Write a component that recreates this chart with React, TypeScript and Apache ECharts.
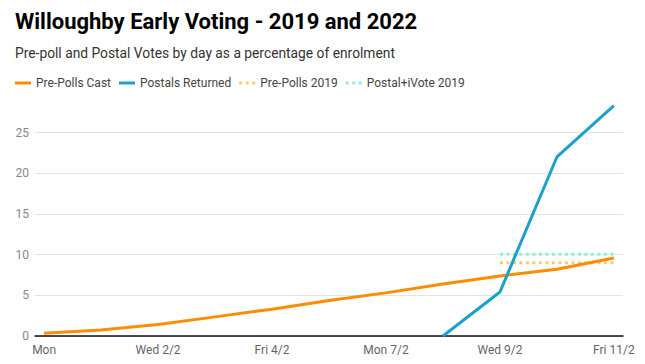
import React, { useEffect, useRef } from "react";
import * as echarts from "echarts";

const categories = ["Mon", "Tue 1/2", "Wed 2/2", "Thu 3/2", "Fri 4/2", "Sat 5/2", "Mon 7/2", "Tue 8/2", "Wed 9/2", "Thu 10/2", "Fri 11/2"];
const prePollsCast = [0.33, 0.75, 1.4, 2.35, 3.3, 4.35, 5.3, 6.4, 7.37, 8.2, 9.58];
const postalsReturned: (number | null)[] = [null, null, null, null, null, null, null, 0, 5.4, 22.0, 28.3];
const prePolls2019: (number | null)[] = [null, null, null, null, null, null, null, null, 9.0, 9.0, 9.0];
const postalIVote2019: (number | null)[] = [null, null, null, null, null, null, null, null, 10.05, 10.05, 10.05];
const xLabelIndices = [0, 2, 4, 6, 8, 10];
const yTicks = [0, 5, 10, 15, 20, 25];

const toPairs = (arr: (number | null)[]) => arr.map((v, i) => [i, v]);

const SOLID_ICON = "path://M0 0H16V3H0Z";
const DOTTED_ICON = "path://M0 0H3V3H0Z M6.5 0H9.5V3H6.5Z M13 0H16V3H13Z";

export default function App() {
  const ref = useRef<HTMLDivElement>(null);
  useEffect(() => {
    document.body.style.margin = "0";
    if (!ref.current) return;
    const chart = echarts.init(ref.current, null, { renderer: "svg" });
    const font = "Roboto, 'Noto Sans', sans-serif";
    chart.setOption({
      animation: false,
      textStyle: { fontFamily: font },
      title: [
        {
          text: "Willoughby Early Voting - 2019 and 2022",
          left: 15,
          top: 10,
          padding: 0,
          textStyle: { fontSize: 22, fontWeight: "bold", color: "#000", fontFamily: font },
        },
        {
          text: "Pre-poll and Postal Votes by day as a percentage of enrolment",
          left: 15,
          top: 46,
          padding: 0,
          textStyle: { fontSize: 13.8, fontWeight: "normal", color: "#333", fontFamily: font },
        },
      ],
      legend: {
        left: 15,
        top: 77,
        padding: 0,
        itemWidth: 16,
        itemHeight: 12,
        itemGap: 8,
        symbolKeepAspect: true,
        textStyle: { fontSize: 12, color: "#444", fontFamily: font },
        data: [
          { name: "Pre-Polls Cast", icon: SOLID_ICON },
          { name: "Postals Returned", icon: SOLID_ICON },
          { name: "Pre-Polls 2019", icon: DOTTED_ICON },
          { name: "Postal+iVote 2019", icon: DOTTED_ICON },
        ],
      },
      grid: { left: 35, right: 22, top: 100, bottom: 28, containLabel: false },
      xAxis: {
        type: "value",
        min: -0.16,
        max: 10.16,
        axisLine: { show: true, onZero: false, lineStyle: { color: "#111", width: 1.5 } },
        axisTick: { show: false },
        splitLine: { show: false },
        axisLabel: {
          customValues: xLabelIndices,
          formatter: (v: number) => categories[Math.round(v)] ?? "",
          color: "#666",
          fontSize: 12,
          margin: 8,
          fontFamily: font,
        },
      },
      yAxis: {
        type: "value",
        min: 0,
        max: 29,
        interval: 5,
        axisLine: { show: false },
        axisTick: { show: false },
        axisLabel: {
          showMaxLabel: false,
          color: "#888",
          fontSize: 12,
          margin: 6,
          fontFamily: font,
          formatter: (v: number) => (yTicks.includes(v) ? String(v) : ""),
        },
        splitLine: { show: true, showMaxLine: false, lineStyle: { color: "#e3e3e3", width: 1 } },
      },
      series: [
        {
          name: "Pre-Polls Cast",
          type: "line",
          data: toPairs(prePollsCast),
          symbol: "none",
          lineStyle: { color: "#ff8c00", width: 3 },
          itemStyle: { color: "#ff8c00" },
          z: 3,
        },
        {
          name: "Postals Returned",
          type: "line",
          data: toPairs(postalsReturned),
          symbol: "none",
          lineStyle: { color: "#1aa2cc", width: 3 },
          itemStyle: { color: "#1aa2cc" },
          z: 4,
        },
        {
          name: "Pre-Polls 2019",
          type: "line",
          data: toPairs(prePolls2019),
          symbol: "none",
          lineStyle: { color: "#ffc978", width: 3, type: [3, 3.5] },
          itemStyle: { color: "#ffc978" },
          z: 2,
        },
        {
          name: "Postal+iVote 2019",
          type: "line",
          data: toPairs(postalIVote2019),
          symbol: "none",
          lineStyle: { color: "#8ef0d2", width: 3, type: [3, 3.5] },
          itemStyle: { color: "#8ef0d2" },
          z: 2,
        },
      ],
    });
    return () => chart.dispose();
  }, []);
  return <div ref={ref} style={{ width: 645, height: 364 }} />;
}
